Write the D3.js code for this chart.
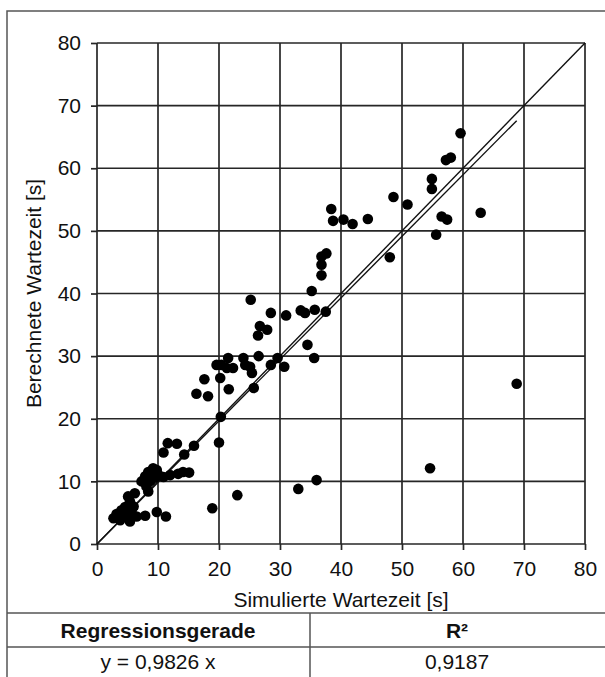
<!DOCTYPE html>
<html>
<head>
<meta charset="utf-8">
<script src="https://cdn.jsdelivr.net/npm/d3@7"></script>
<style>
  html, body { margin: 0; padding: 0; background: #fff; }
  svg { display: block; font-family: "Liberation Sans", Arial, sans-serif; }
</style>
</head>
<body>
<svg id="chart" width="605" height="677"></svg>
<script>
// Simulated vs. computed waiting time [s]
const simulated = [
  59.6, 57.2, 58.0, 54.9, 54.9, 48.6, 50.9, 40.4, 41.9, 44.4, 38.7, 38.4,
  56.5, 57.4, 55.6, 62.9, 48.0,
  37.6, 36.8, 36.8, 36.8, 35.2, 25.2, 28.5, 31.0, 33.4, 34.1, 35.7, 37.5,
  26.7, 27.9, 26.4, 34.5, 35.6, 26.5, 29.6, 28.5, 30.7,
  19.6, 21.5, 20.4, 21.3, 22.3, 24.0, 24.3, 25.1, 25.4,
  17.6, 16.3, 18.2, 20.2, 21.6, 25.7, 20.3, 20.0,
  68.8, 54.6, 33.0, 36.0, 18.9, 23.0,
  15.9, 14.3, 11.6, 13.1, 10.9,
  8.4, 9.2, 9.8, 7.9, 10.1, 10.9, 8.7, 7.3, 8.1, 8.4, 6.2, 5.1,
  12.0, 13.3, 14.1, 15.1,
  2.7, 3.5, 4.0, 4.6, 3.8, 4.9, 5.4, 5.7, 6.5, 5.1, 6.0, 5.4,
  7.9, 9.8, 11.3, 9.5, 3.2, 4.3
];
const computed = [
  65.6, 61.3, 61.7, 58.3, 56.7, 55.4, 54.2, 51.8, 51.1, 51.9, 51.6, 53.5,
  52.3, 51.8, 49.4, 52.9, 45.8,
  46.4, 45.9, 44.6, 42.9, 40.4, 39.0, 36.9, 36.5, 37.3, 36.9, 37.4, 37.1,
  34.8, 34.2, 33.3, 31.8, 29.7, 30.0, 29.7, 28.6, 28.3,
  28.6, 29.7, 28.6, 28.1, 28.1, 29.7, 28.6, 28.3, 27.3,
  26.3, 24.0, 23.6, 26.5, 24.7, 24.9, 20.3, 16.2,
  25.6, 12.1, 8.8, 10.2, 5.7, 7.8,
  15.7, 14.3, 16.1, 16.0, 14.6,
  11.5, 12.1, 11.8, 10.8, 11.0, 10.7, 10.0, 10.0, 9.2, 8.4, 8.1, 7.6,
  11.0, 11.2, 11.5, 11.4,
  4.1, 4.6, 5.4, 5.9, 3.8, 4.4, 3.6, 4.9, 4.4, 5.4, 6.0, 6.8,
  4.5, 5.1, 4.4, 10.6, 4.8, 5.0
];

const axisTicks = [0, 10, 20, 30, 40, 50, 60, 70, 80];
const slope = 0.9826;
const rSquared = "0,9187";
const equationText = "y = 0,9826 x";
const tableHeaders = ["Regressionsgerade", "R²"];
const xTitle = "Simulierte Wartezeit [s]";
const yTitle = "Berechnete Wartezeit [s]";

const points = simulated.map((v, i) => ({ x: v, y: computed[i] }));

const svg = d3.select("#chart");
const W = 605, H = 677;
const plotL = 97, plotR = 585, plotT = 43, plotB = 544;

const x = d3.scaleLinear().domain([0, 80]).range([plotL, plotR]);
const y = d3.scaleLinear().domain([0, 80]).range([plotB, plotT]);

const lineCol = "#262626";
const textCol = "#111";
const fontSize = 21;

// outer frame
svg.append("rect")
  .attr("x", 7).attr("y", 11)
  .attr("width", W + 10).attr("height", H + 10)
  .attr("fill", "none").attr("stroke", "#555").attr("stroke-width", 1.5);

// grid
const grid = svg.append("g");
grid.selectAll("line.v").data(axisTicks).join("line")
  .attr("class", "v")
  .attr("x1", d => x(d)).attr("x2", d => x(d))
  .attr("y1", y(80)).attr("y2", y(0))
  .attr("stroke", lineCol).attr("stroke-width", 1.7);
grid.selectAll("line.h").data(axisTicks).join("line")
  .attr("class", "h")
  .attr("x1", x(0)).attr("x2", x(80))
  .attr("y1", d => y(d)).attr("y2", d => y(d))
  .attr("stroke", lineCol).attr("stroke-width", 1.7);

// axes
const xAxis = d3.axisBottom(x).tickValues(axisTicks).tickSize(6).tickPadding(11);
const yAxis = d3.axisLeft(y).tickValues(axisTicks).tickSize(6).tickPadding(10);

const gx = svg.append("g").attr("transform", `translate(0,${plotB})`).call(xAxis);
const gy = svg.append("g").attr("transform", `translate(${plotL},0)`).call(yAxis);
[gx, gy].forEach(g => {
  g.select(".domain").remove();
  g.selectAll(".tick line").attr("stroke", lineCol).attr("stroke-width", 1.7);
  g.selectAll(".tick text")
    .attr("font-family", "Liberation Sans, Arial, sans-serif")
    .attr("font-size", fontSize).attr("fill", textCol);
});

// identity line y = x
svg.append("line")
  .attr("x1", x(0)).attr("y1", y(0))
  .attr("x2", x(80)).attr("y2", y(80))
  .attr("stroke", "#111").attr("stroke-width", 1.4);

// regression line y = slope * x over the simulated range
const xMax = d3.max(simulated);
svg.append("line")
  .attr("x1", x(0)).attr("y1", y(0))
  .attr("x2", x(xMax)).attr("y2", y(slope * xMax))
  .attr("stroke", "#111").attr("stroke-width", 1.4);

// points
svg.append("g").selectAll("circle").data(points).join("circle")
  .attr("cx", d => x(d.x)).attr("cy", d => y(d.y))
  .attr("r", 5.3).attr("fill", "#000");

// axis titles
svg.append("text")
  .attr("x", (plotL + plotR) / 2).attr("y", 607)
  .attr("text-anchor", "middle").attr("font-size", fontSize).attr("fill", textCol)
  .text(xTitle);
svg.append("text")
  .attr("transform", `translate(41,${(plotT + plotB) / 2}) rotate(-90)`)
  .attr("text-anchor", "middle").attr("font-size", fontSize).attr("fill", textCol)
  .text(yTitle);

// regression table
const tTop = 613, tMid = 647, tBot = 690, colX = 310;
svg.append("line").attr("x1", 7).attr("x2", W + 5).attr("y1", tTop).attr("y2", tTop)
  .attr("stroke", "#555").attr("stroke-width", 1.5);
svg.append("line").attr("x1", 7).attr("x2", W + 5).attr("y1", tMid).attr("y2", tMid)
  .attr("stroke", "#555").attr("stroke-width", 1.5);
svg.append("line").attr("x1", colX).attr("x2", colX).attr("y1", tTop).attr("y2", tBot)
  .attr("stroke", "#555").attr("stroke-width", 1.5);

const colCenters = [158, 457];
svg.selectAll("text.hdr").data(tableHeaders).join("text")
  .attr("class", "hdr")
  .attr("x", (d, i) => colCenters[i]).attr("y", 638)
  .attr("text-anchor", "middle").attr("font-size", fontSize).attr("font-weight", "bold")
  .attr("fill", textCol).text(d => d);
svg.selectAll("text.val").data([equationText, rSquared]).join("text")
  .attr("class", "val")
  .attr("x", (d, i) => colCenters[i]).attr("y", 669)
  .attr("text-anchor", "middle").attr("font-size", fontSize)
  .attr("fill", textCol).text(d => d);
</script>
</body>
</html>
